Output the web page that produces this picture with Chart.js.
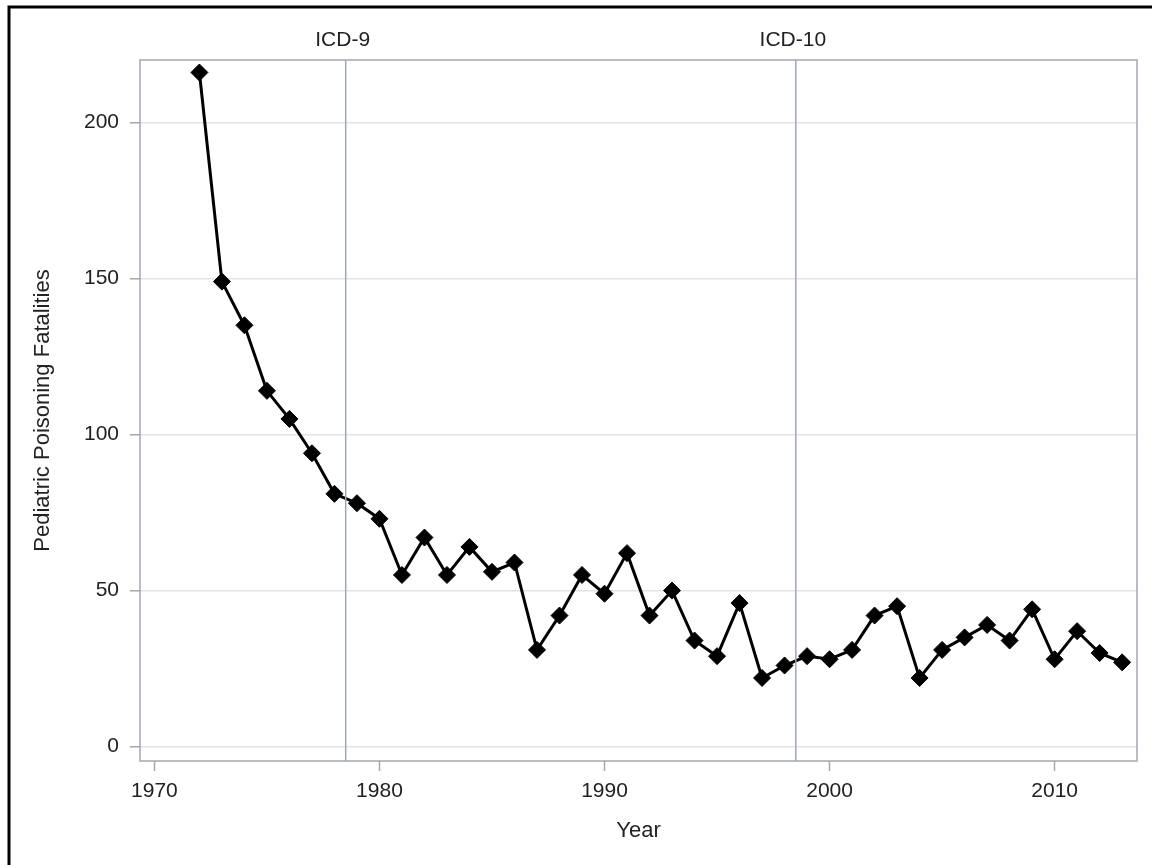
<!DOCTYPE html>
<html>
<head>
<meta charset="utf-8">
<title>Pediatric Poisoning Fatalities</title>
<script src="https://cdn.jsdelivr.net/npm/chart.js@4.4.1/dist/chart.umd.min.js"></script>
<style>
  html, body { margin: 0; padding: 0; background: #fff; overflow: hidden; }
  canvas { display: block; }
</style>
</head>
<body>
<canvas id="poisonChart" width="1152" height="865"></canvas>
<script>
// data
const years = [1972, 1973, 1974, 1975, 1976, 1977, 1978, 1979, 1980, 1981,
               1982, 1983, 1984, 1985, 1986, 1987, 1988, 1989, 1990, 1991,
               1992, 1993, 1994, 1995, 1996, 1997, 1998, 1999, 2000, 2001,
               2002, 2003, 2004, 2005, 2006, 2007, 2008, 2009, 2010, 2011,
               2012, 2013];
const fatalities = [216, 149, 135, 114, 105, 94, 81, 78, 73, 55,
                    67, 55, 64, 56, 59, 31, 42, 55, 49, 62,
                    42, 50, 34, 29, 46, 22, 26, 29, 28, 31,
                    42, 45, 22, 31, 35, 39, 34, 44, 28, 37,
                    30, 27];
const xTicks = [1970, 1980, 1990, 2000, 2010];
const yTicks = [0, 50, 100, 150, 200];
const refLines = [
    { year: 1978.5, label: 'ICD-9' },
    { year: 1998.5, label: 'ICD-10' },
];

const FONT = '"Liberation Sans", Arial, sans-serif';
const AXIS_GRAY = '#a3a8ae';

// black frame, plot box and the ICD reference lines
const decorations = {
    id: 'decorations',
    beforeDraw(chart) {
        const ctx = chart.ctx;
        ctx.save();
        ctx.strokeStyle = '#000';
        ctx.lineWidth = 3;
        ctx.beginPath();
        ctx.moveTo(9, 900);
        ctx.lineTo(9, 7);
        ctx.lineTo(1160, 7);
        ctx.stroke();
        ctx.restore();
    },
    afterDatasetsDraw(chart) {
        const { ctx, chartArea: a, scales: { x } } = chart;
        ctx.save();
        ctx.strokeStyle = AXIS_GRAY;
        ctx.lineWidth = 1.5;
        ctx.strokeRect(a.left, a.top, a.right - a.left, a.bottom - a.top);
        ctx.fillStyle = '#222';
        ctx.font = '21px ' + FONT;
        ctx.textAlign = 'center';
        ctx.textBaseline = 'middle';
        refLines.forEach(r => {
            const px = x.getPixelForValue(r.year);
            ctx.beginPath();
            ctx.moveTo(px, a.top);
            ctx.lineTo(px, a.bottom);
            ctx.stroke();
            ctx.fillText(r.label, px - 3, 40);
        });
        ctx.restore();
    },
};

const ctx = document.getElementById('poisonChart').getContext('2d');
new Chart(ctx, {
    type: 'line',
    data: {
        datasets: [{
            label: 'Pediatric Poisoning Fatalities',
            data: years.map((yr, i) => ({ x: yr, y: fatalities[i] })),
            borderColor: '#000',
            borderWidth: 3,
            backgroundColor: '#000',
            pointStyle: 'rectRot',
            pointRadius: 8.5,
            pointBorderWidth: 1,
            pointBackgroundColor: '#000',
            pointBorderColor: '#000',
            tension: 0,
            fill: false,
        }],
    },
    options: {
        responsive: false,
        animation: false,
        devicePixelRatio: 1,
        layout: { padding: { top: 60, right: 15, left: 0, bottom: 0 } },
        plugins: {
            legend: { display: false },
            tooltip: { enabled: false },
        },
        scales: {
            x: {
                type: 'linear',
                position: 'bottom',
                min: 1969.36,
                max: 2013.66,
                afterBuildTicks: s => { s.ticks = xTicks.map(v => ({ value: v })); },
                afterFit: s => { s.height = 104; },
                grid: {
                    drawOnChartArea: false,
                    drawTicks: true,
                    tickLength: 10,
                    tickColor: AXIS_GRAY,
                    tickWidth: 1.5,
                },
                border: { display: false },
                ticks: {
                    padding: 8,
                    color: '#222',
                    font: { family: FONT, size: 21 },
                    maxRotation: 0,
                    callback: v => String(v),
                },
                title: {
                    display: true,
                    text: 'Year',
                    color: '#222',
                    font: { family: FONT, size: 22 },
                    padding: { top: 0, bottom: 21 },
                },
            },
            y: {
                min: -4.6,
                max: 220,
                afterBuildTicks: s => { s.ticks = yTicks.map(v => ({ value: v })); },
                afterFit: s => { s.width = 140; },
                grid: {
                    color: '#e3e3e3',
                    lineWidth: 1.5,
                    drawTicks: true,
                    tickLength: 10,
                    tickColor: AXIS_GRAY,
                    tickWidth: 1.5,
                },
                border: { display: false },
                ticks: {
                    padding: 11,
                    color: '#222',
                    font: { family: FONT, size: 21 },
                },
                title: {
                    display: true,
                    text: 'Pediatric Poisoning Fatalities',
                    color: '#222',
                    font: { family: FONT, size: 22 },
                    padding: { top: 30, bottom: 0 },
                },
            },
        },
    },
    plugins: [decorations],
});
</script>
</body>
</html>
